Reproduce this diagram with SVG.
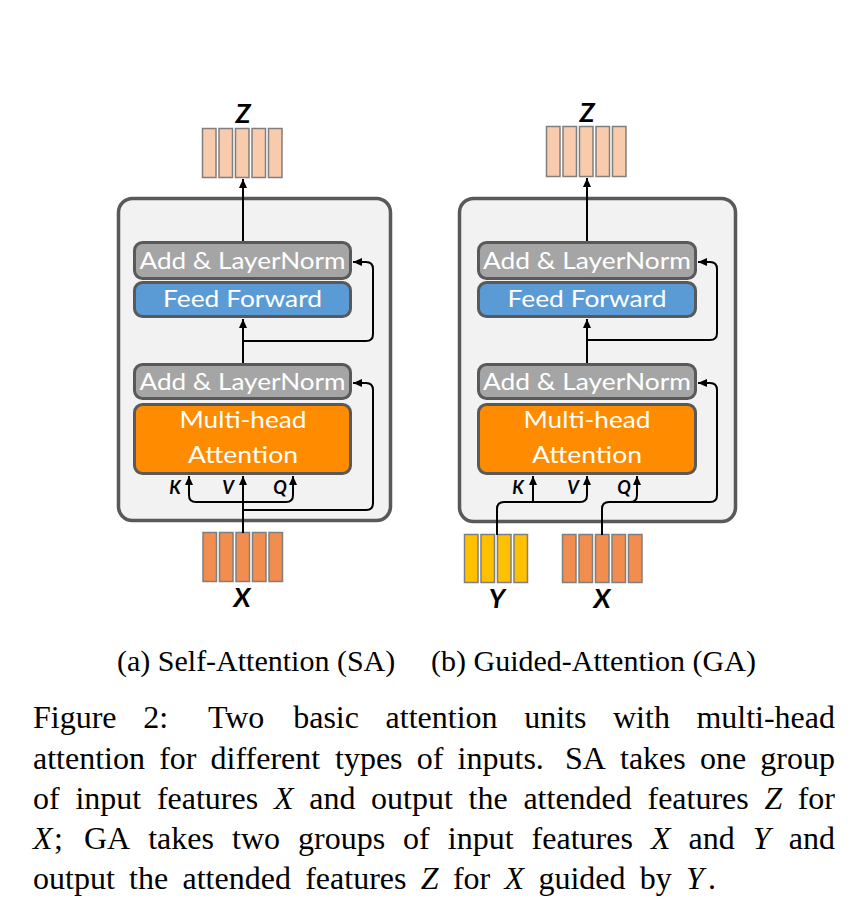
<svg xmlns="http://www.w3.org/2000/svg" width="857" height="912" viewBox="0 0 857 912">
<style>
.panel{fill:#f2f2f2;stroke:#595959;stroke-width:3.5}
.aln{fill:#a5a5a5;stroke:#595959;stroke-width:3}
.ff{fill:#5b9bd5;stroke:#595959;stroke-width:3}
.mha{fill:#ff8c00;stroke:#595959;stroke-width:3}
.bt{font-family:Lato,"Open Sans","DejaVu Sans",sans-serif;fill:#ffffff;text-anchor:middle}
.lbl{font-family:Lato,"Open Sans","DejaVu Sans",sans-serif;font-weight:bold;font-style:italic;fill:#000;text-anchor:middle}
.zb{fill:#f8cbad;stroke:#7f7f7f;stroke-width:1.5}
.xb{fill:#f08d4f;stroke:#7f7f7f;stroke-width:1.5}
.yb{fill:#ffc000;stroke:#7f7f7f;stroke-width:1.5}
.ln{fill:none;stroke:#000;stroke-width:2}
.cap{font-family:"Liberation Serif","Times New Roman",serif;font-size:32px;fill:#000}
.sub{font-family:"Liberation Serif","Times New Roman",serif;font-size:30px;fill:#000}
.it{font-style:italic}
</style>
<defs>
<marker id="ah" markerUnits="userSpaceOnUse" markerWidth="10" markerHeight="8" refX="9" refY="4" orient="auto">
<path d="M0,0 L9,4 L0,8 z" fill="#000"/>
</marker>
</defs>

<!-- Panel (a) SA -->
<g id="sa-panel"><rect class="panel" x="118.5" y="198.5" width="272" height="322" rx="14"/></g>
<g id="sa-z">
<rect class="zb" x="202.5" y="128.5" width="13.5" height="49"/>
<rect class="zb" x="219" y="128.5" width="13.5" height="49"/>
<rect class="zb" x="235.5" y="128.5" width="13.5" height="49"/>
<rect class="zb" x="252" y="128.5" width="13.5" height="49"/>
<rect class="zb" x="268.5" y="128.5" width="13.5" height="49"/>
<text class="lbl" x="243" y="123" font-size="27">Z</text>
</g>
<g id="sa-addnorm1"><rect class="aln" x="134.5" y="242.5" width="216" height="36" rx="8"/><text class="bt" x="242.5" y="269" font-size="24" textLength="206" lengthAdjust="spacingAndGlyphs">Add &amp; LayerNorm</text></g>
<g id="sa-ff"><rect class="ff" x="134.5" y="282.5" width="216" height="34" rx="8"/><text class="bt" x="242.5" y="307" font-size="24" textLength="159" lengthAdjust="spacingAndGlyphs">Feed Forward</text></g>
<g id="sa-addnorm2"><rect class="aln" x="134.5" y="364.5" width="216" height="34" rx="8"/><text class="bt" x="242.5" y="390" font-size="24" textLength="206" lengthAdjust="spacingAndGlyphs">Add &amp; LayerNorm</text></g>
<g id="sa-mha"><rect class="mha" x="134.5" y="404.5" width="216" height="69" rx="8"/><text class="bt" x="243" y="428" font-size="24" textLength="127" lengthAdjust="spacingAndGlyphs">Multi-head</text><text class="bt" x="243" y="463" font-size="24" textLength="110" lengthAdjust="spacingAndGlyphs">Attention</text></g>
<g id="sa-x">
<rect class="xb" x="203" y="532.5" width="13.5" height="49"/>
<rect class="xb" x="219.5" y="532.5" width="13.5" height="49"/>
<rect class="xb" x="236" y="532.5" width="13.5" height="49"/>
<rect class="xb" x="252.5" y="532.5" width="13.5" height="49"/>
<rect class="xb" x="269" y="532.5" width="13.5" height="49"/>
<text class="lbl" x="242" y="607" font-size="27">X</text>
</g>
<g id="sa-kvq">
<text class="lbl" x="175" y="494" font-size="18">K</text>
<text class="lbl" x="228" y="494" font-size="18">V</text>
<text class="lbl" x="280" y="494" font-size="18">Q</text>
</g>

<!-- Panel (b) GA -->
<g id="ga-panel"><rect class="panel" x="459.5" y="198.5" width="276" height="323" rx="14"/></g>
<g id="ga-z">
<rect class="zb" x="546.5" y="126.5" width="13.5" height="50"/>
<rect class="zb" x="563" y="126.5" width="13.5" height="50"/>
<rect class="zb" x="579.5" y="126.5" width="13.5" height="50"/>
<rect class="zb" x="596" y="126.5" width="13.5" height="50"/>
<rect class="zb" x="612.5" y="126.5" width="13.5" height="50"/>
<text class="lbl" x="587" y="122" font-size="27">Z</text>
</g>
<g id="ga-addnorm1"><rect class="aln" x="478.5" y="242.5" width="217" height="36" rx="8"/><text class="bt" x="587" y="269" font-size="24" textLength="208" lengthAdjust="spacingAndGlyphs">Add &amp; LayerNorm</text></g>
<g id="ga-ff"><rect class="ff" x="478.5" y="282.5" width="217" height="34" rx="8"/><text class="bt" x="587" y="307" font-size="24" textLength="159" lengthAdjust="spacingAndGlyphs">Feed Forward</text></g>
<g id="ga-addnorm2"><rect class="aln" x="478.5" y="364.5" width="217" height="34" rx="8"/><text class="bt" x="587" y="390" font-size="24" textLength="208" lengthAdjust="spacingAndGlyphs">Add &amp; LayerNorm</text></g>
<g id="ga-mha"><rect class="mha" x="478.5" y="404.5" width="217" height="69" rx="8"/><text class="bt" x="587" y="428" font-size="24" textLength="127" lengthAdjust="spacingAndGlyphs">Multi-head</text><text class="bt" x="587" y="463" font-size="24" textLength="110" lengthAdjust="spacingAndGlyphs">Attention</text></g>
<g id="ga-y">
<rect class="yb" x="464.5" y="534.5" width="13.5" height="48"/>
<rect class="yb" x="481" y="534.5" width="13.5" height="48"/>
<rect class="yb" x="497.5" y="534.5" width="13.5" height="48"/>
<rect class="yb" x="514" y="534.5" width="13.5" height="48"/>
<text class="lbl" x="497" y="608" font-size="27">Y</text>
</g>
<g id="ga-x">
<rect class="xb" x="562.5" y="534.5" width="13.5" height="48"/>
<rect class="xb" x="579" y="534.5" width="13.5" height="48"/>
<rect class="xb" x="595.5" y="534.5" width="13.5" height="48"/>
<rect class="xb" x="612" y="534.5" width="13.5" height="48"/>
<rect class="xb" x="628.5" y="534.5" width="13.5" height="48"/>
<text class="lbl" x="602" y="608" font-size="27">X</text>
</g>
<g id="ga-kvq">
<text class="lbl" x="518" y="494" font-size="18">K</text>
<text class="lbl" x="573" y="494" font-size="18">V</text>
<text class="lbl" x="624" y="494" font-size="18">Q</text>
</g>

<!-- Connectors -->
<g id="connectors">
<path class="ln" marker-end="url(#ah)" d="M243 241 V179"/>
<path class="ln" marker-end="url(#ah)" d="M243 363 V319"/>
<path class="ln" marker-end="url(#ah)" d="M243 341 H366 Q373 341 373 334 V269 Q373 262 366 262 H353"/>
<path class="ln" marker-end="url(#ah)" d="M243 533 V476"/>
<path class="ln" marker-end="url(#ah)" d="M243 502 H196 Q189 502 189 495 V476"/>
<path class="ln" marker-end="url(#ah)" d="M243 502 H286 Q293 502 293 495 V476"/>
<path class="ln" marker-end="url(#ah)" d="M243 510 H366 Q373 510 373 503 V390 Q373 383 366 383 H353"/>

<path class="ln" marker-end="url(#ah)" d="M587 241 V178"/>
<path class="ln" marker-end="url(#ah)" d="M587 363 V319"/>
<path class="ln" marker-end="url(#ah)" d="M587 340 H710 Q717 340 717 333 V269 Q717 262 710 262 H698"/>
<path class="ln" marker-end="url(#ah)" d="M497 535 V509 Q497 502 504 502 H580 Q587 502 587 495 V476"/>
<path class="ln" marker-end="url(#ah)" d="M533 502 V476"/>
<path class="ln" marker-end="url(#ah)" d="M602 535 V509 Q602 502 609 502 H710 Q717 502 717 495 V390 Q717 383 710 383 H698"/>
<path class="ln" marker-end="url(#ah)" d="M630 502 Q637 502 637 495 V476"/>
</g>

<!-- Sub-captions -->
<g id="subcaptions">
<text class="sub" x="117" y="671">(a) Self-Attention (SA)</text>
<text class="sub" x="431" y="671">(b) Guided-Attention (GA)</text>
</g>

<!-- Caption -->
<g id="caption" class="cap">
<text y="728"><tspan x="33">Figure</tspan><tspan x="143.2">2:</tspan><tspan x="207.9">Two</tspan><tspan x="293.2">basic</tspan><tspan x="385.6">attention</tspan><tspan x="524.2">units</tspan><tspan x="613">with</tspan></text>
<text y="728" x="835" text-anchor="end">multi-head</text>
<text y="768.5"><tspan x="33">attention</tspan><tspan x="159.2">for</tspan><tspan x="210.6">different</tspan><tspan x="335">types</tspan><tspan x="416.7">of</tspan><tspan x="457.6">inputs.</tspan><tspan x="565">SA</tspan><tspan x="620">takes</tspan><tspan x="700">one</tspan></text>
<text y="768.5" x="835" text-anchor="end">group</text>
<text y="809"><tspan x="33">of</tspan><tspan x="75.4">input</tspan><tspan x="156.9">features</tspan><tspan x="273.9" class="it">X</tspan><tspan x="309.2">and</tspan><tspan x="371.1">output</tspan><tspan x="468.6">the</tspan><tspan x="523.4">attended</tspan><tspan x="647.5">features</tspan><tspan x="764.5" class="it">Z</tspan></text>
<text y="809" x="835" text-anchor="end">for</text>
<text y="849"><tspan x="33" class="it">X</tspan><tspan x="54">;</tspan><tspan x="84">GA</tspan><tspan x="148.2">takes</tspan><tspan x="232">two</tspan><tspan x="298">groups</tspan><tspan x="403.1">of</tspan><tspan x="447.8">input</tspan><tspan x="531.6">features</tspan><tspan x="650.9" class="it">X</tspan><tspan x="688.5">and</tspan><tspan x="752.7" class="it">Y</tspan></text>
<text y="849" x="835" text-anchor="end">and</text>
<text y="889"><tspan x="33">output</tspan><tspan x="129.1">the</tspan><tspan x="182.5">attended</tspan><tspan x="305.2">features</tspan><tspan x="420.8" class="it">Z</tspan><tspan x="452.9">for</tspan><tspan x="504.5" class="it">X</tspan><tspan x="538.4">guided</tspan><tspan x="639.8">by</tspan><tspan x="686.1" class="it">Y</tspan><tspan x="708">.</tspan></text>
</g>
</svg>
